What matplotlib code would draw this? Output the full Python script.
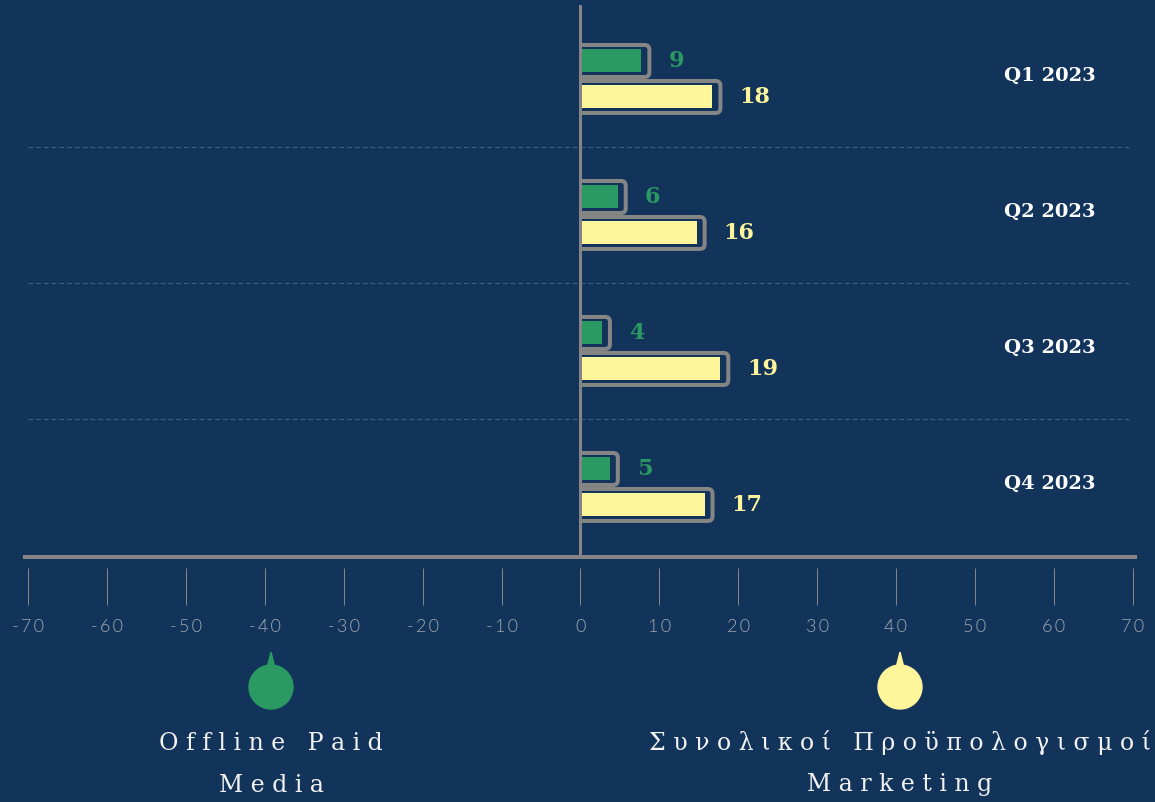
import matplotlib
matplotlib.use("Agg")
import matplotlib.pyplot as plt
from matplotlib.patches import FancyBboxPatch, Circle, Polygon, Rectangle

# ---- data ----
quarters = ["Q1 2023", "Q2 2023", "Q3 2023", "Q4 2023"]
offline_paid = [9, 6, 4, 5]
total_budget = [18, 16, 19, 17]
series_names = ["Offline Paid\nMedia", "Συνολικοί Προϋπολογισμοί\nMarketing"]
xticks = list(range(-70, 71, 10))

# ---- style ----
BG = "#12345a"
GREEN = "#2a9a62"
YELLOW = "#fff59b"
GRAY = "#858585"
W, H = 1155, 802
DPI = 100

fig = plt.figure(figsize=(W / DPI, H / DPI), dpi=DPI, facecolor=BG)

# axes in pixel layout
px_left, px_right, px_top, px_bot = 25, 1135, 5, 557
ax = fig.add_axes([px_left / W, 1 - px_bot / H, (px_right - px_left) / W, (px_bot - px_top) / H])
ax.set_facecolor(BG)
xmin, xmax = -70.4, 70.3
ax.set_xlim(xmin, xmax)
ylo, yhi = 3.515, -0.544
ax.set_ylim(ylo, yhi)

ux = (xmax - xmin) / (px_right - px_left)   # x data units per pixel
uy = (ylo - yhi) / (px_bot - px_top)        # y data units per pixel
aspect = uy / ux

off = 18 * uy
fill_h = 23 * uy
lw_px = 4
outline_h = (36 - lw_px) * uy

clip_rect = Rectangle((0, yhi), 200, ylo - yhi, transform=ax.transData, visible=False)
ax.add_patch(clip_rect)

for i, q in enumerate(quarters):
    for val, col, sign in ((offline_paid[i], GREEN, -1), (total_budget[i], YELLOW, 1)):
        yc = i + sign * off
        # outline
        x0 = -8 * ux
        x1 = val - (lw_px / 2) * ux
        box = FancyBboxPatch((x0, yc - outline_h / 2), x1 - x0, outline_h,
                             boxstyle="round,pad=0,rounding_size=0.6",
                             mutation_aspect=aspect, facecolor="none",
                             edgecolor=GRAY, linewidth=lw_px * 0.72, zorder=3)
        ax.add_patch(box)
        box.set_clip_path(clip_rect)
        # fill
        ax.barh(yc, val - 10 * ux, height=fill_h, left=0, color=col, zorder=4)
        ax.text(val + 17 * ux, yc, str(val), color=col, fontsize=16,
                fontweight="bold", family="DejaVu Serif", ha="left", va="center", zorder=5)
    ax.text(59.5, i - 3 * uy, q, color="white", fontsize=14, fontweight="bold",
            family="DejaVu Serif", ha="center", va="center")

# separators
ax.hlines([0.5, 1.5, 2.5], -70, 69.5, colors="#3d5f86", linestyles=(0, (4, 3)), linewidth=0.8, zorder=1)

# zero line and bottom axis line
ax.axvline(0, color=GRAY, linewidth=3 * 0.72, zorder=6)
ax.axhline(ylo, color=GRAY, linewidth=4 * 0.72, zorder=6, clip_on=False)

for s in ("left", "right", "top"):
    ax.spines[s].set_visible(False)
ax.spines["bottom"].set_position(("outward", 8))
ax.spines["bottom"].set_visible(False)
ax.set_yticks([])
ax.set_xticks(xticks)
ax.set_xticklabels(["\u2009".join(str(t)) for t in xticks])
ax.tick_params(axis="x", direction="out", length=37 * 0.72, width=0.72, color=GRAY,
               pad=10, labelsize=13, labelcolor="#a2a8b0")
for lab in ax.get_xticklabels():
    lab.set_family(["Lato", "DejaVu Sans"])
    lab.set_fontweight(300)

# ---- legend overlay in pixel coords ----
ov = fig.add_axes([0, 0, 1, 1])
ov.set_xlim(0, W)
ov.set_ylim(H, 0)
ov.axis("off")
ov.patch.set_alpha(0)


def spaced(s):
    lines = []
    for line in s.split("\n"):
        words = [" ".join(list(w)) for w in line.split(" ")]
        lines.append("   ".join(words))
    return lines


for cx, col, name in ((271, GREEN, series_names[0]), (900, YELLOW, series_names[1])):
    ov.add_patch(Circle((cx, 687), 22, color=col))
    ov.add_patch(Polygon([(cx - 4, 668), (cx, 652), (cx + 4, 668)], closed=True, color=col))
    lines = spaced(name)
    for k, ln in enumerate(lines):
        ov.text(cx, 743 + k * 42, ln, color="#f2f2f2", fontsize=17, family="DejaVu Serif",
                ha="center", va="center")

fig.savefig("out.png", dpi=DPI, facecolor=BG)
